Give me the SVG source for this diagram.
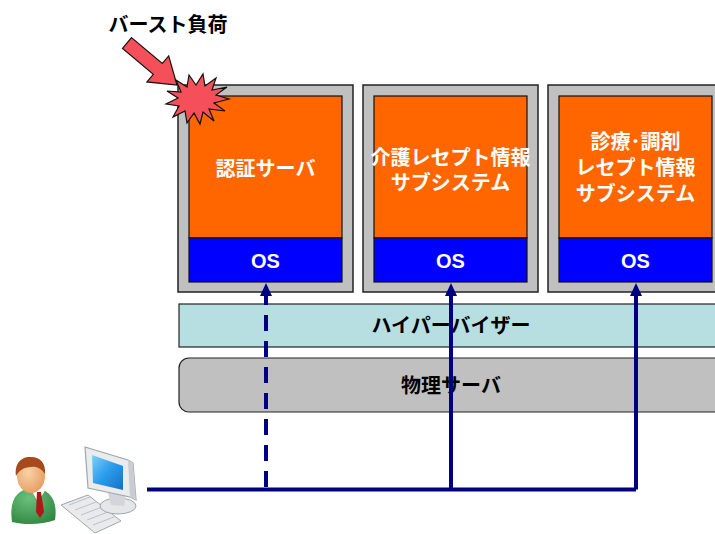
<svg xmlns="http://www.w3.org/2000/svg" width="715" height="534" viewBox="0 0 715 534">
  <defs>
    <style>
      .vm { fill: #C0C0C0; stroke: #222; stroke-width: 1.5; }
      .app { fill: #FF6600; stroke: #111; stroke-width: 1.2; }
      .os { fill: #0000FF; stroke: #111; stroke-width: 1.2; }
      .wt { fill: #FFFFFF; font-family: "Liberation Sans", "Noto Sans CJK JP", sans-serif; font-weight: bold; font-size: 20px; text-anchor: middle; }
      .bt { fill: #000000; font-family: "Liberation Sans", "Noto Sans CJK JP", sans-serif; font-weight: bold; font-size: 20px; text-anchor: middle; }
      .link { fill: none; stroke: #000080; stroke-width: 4; }
      .burst { fill: #F5505A; stroke: #111; stroke-width: 1.2; stroke-linejoin: miter; }
    </style>
    <!-- arrowhead: base sits on the line end, tip 13px beyond -->
    <marker id="head" markerWidth="12" markerHeight="14" refX="6" refY="13" orient="0" markerUnits="userSpaceOnUse">
      <path d="M6,0 L12,13 L0,13 Z" fill="#000080"/>
    </marker>
    <radialGradient id="suit" cx="0.4" cy="0.3" r="0.8">
      <stop offset="0" stop-color="#6CC07A"/>
      <stop offset="1" stop-color="#2E8540"/>
    </radialGradient>
    <radialGradient id="face" cx="0.4" cy="0.4" r="0.7">
      <stop offset="0" stop-color="#FAD2A6"/>
      <stop offset="1" stop-color="#E29A5E"/>
    </radialGradient>
    <linearGradient id="screen" x1="0" y1="0" x2="1" y2="1">
      <stop offset="0" stop-color="#7FD0FA"/>
      <stop offset="0.5" stop-color="#2A9BEA"/>
      <stop offset="1" stop-color="#1670C8"/>
    </linearGradient>
  </defs>

  <rect width="715" height="534" fill="#FFFFFF"/>

  <!-- hypervisor layer -->
  <g id="hypervisor">
    <rect x="179" y="304" width="545" height="43" fill="#B7DEE1" stroke="#222" stroke-width="1.2"/>
    <text class="bt" x="451" y="333">ハイパーバイザー</text>
  </g>

  <!-- physical server -->
  <g id="physical-server">
    <rect x="179" y="358" width="560" height="54" rx="10" ry="10" fill="#C0C0C0" stroke="#222" stroke-width="1.2"/>
    <text class="bt" x="451" y="393">物理サーバ</text>
  </g>

  <!-- virtual machines -->
  <g id="vm-auth">
    <rect class="vm" x="178" y="85" width="175" height="207"/>
    <rect class="app" x="189" y="96" width="153" height="142"/>
    <rect class="os" x="189" y="238" width="153" height="44"/>
    <text class="wt" x="265.5" y="176" font-size="21">認証サーバ</text>
    <text class="wt" x="265.5" y="268">OS</text>
  </g>

  <g id="vm-care">
    <rect class="vm" x="363" y="85" width="175" height="207"/>
    <rect class="app" x="374" y="96" width="153" height="142"/>
    <rect class="os" x="374" y="238" width="153" height="44"/>
    <text class="wt" x="450.5" y="165">介護レセプト情報</text>
    <text class="wt" x="450.5" y="190">サブシステム</text>
    <text class="wt" x="450.5" y="268">OS</text>
  </g>

  <g id="vm-medical">
    <rect class="vm" x="548" y="85" width="175" height="207"/>
    <rect class="app" x="559" y="96" width="153" height="142"/>
    <rect class="os" x="559" y="238" width="153" height="44"/>
    <text class="wt" x="635.5" y="149">診療･調剤</text>
    <text class="wt" x="635.5" y="175">レセプト情報</text>
    <text class="wt" x="635.5" y="201">サブシステム</text>
    <text class="wt" x="635.5" y="268">OS</text>
  </g>

  <!-- burst load callout -->
  <g id="burst-load">
    <text class="bt" x="168" y="32">バースト負荷</text>
    <polygon class="burst" points="131.5,37.6 162.3,63.5 168.7,55.9 177,85 146.9,81.9 153.3,74.3 122.5,48.4"/>
    <polygon class="burst" points="229,99 214,103 225,111 209,109 214,121 203,112 200,124 194,113 187,123 185,111 173,117 179,106 166,104 178,98 167,91 181,92 176,80 187,87 189,75 196,85 203,74 205,86 216,78 212,90 227,87 216,95"/>
  </g>

  <!-- user with workstation -->
  <g id="user">
    <!-- person -->
    <path d="M12,522 C9,500 16,490 33,487 C50,489 58,500 55,520 C42,525 24,525 12,522 Z" fill="url(#suit)"/>
    <path d="M30,488 L38,502 L46,489 Z" fill="#FFFFFF"/>
    <path d="M37,492 L41,492 L44,512 L40,518 L36,512 Z" fill="#B01818"/>
    <ellipse cx="31" cy="476" rx="14" ry="17" fill="url(#face)"/>
    <path d="M16,476 C14,461 24,456 31,457 C41,457 46,464 45,474 C41,468 36,466 31,467 C23,467 19,471 16,476 Z" fill="#A64A1E"/>
    <!-- keyboard -->
    <path d="M61,505 L88,495 L121,521 L95,533 Z" fill="#E8EAEC" stroke="#A0A6AC" stroke-width="1"/>
    <path d="M69,505 L90,497 M75,510 L96,502 M81,515 L102,507 M87,520 L108,512 M93,525 L114,517" stroke="#BCC1C6" stroke-width="1"/>
    <!-- monitor stand -->
    <ellipse cx="118" cy="506" rx="18" ry="8" fill="#E4E6E8" stroke="#A0A6AC" stroke-width="1"/>
    <path d="M108,493 L126,495 L124,506 L111,505 Z" fill="#D2D6DA"/>
    <!-- monitor -->
    <path d="M85,447 L128,460 L133,463 L136,500 L130,497 L88,488 Z" fill="#E9EBED" stroke="#A0A6AC" stroke-width="1.2"/>
    <path d="M128,460 L133,463 L136,500 L130,497 Z" fill="#C9CDD1"/>
    <path d="M92,455 L123,466 L123,490 L93,483 Z" fill="url(#screen)"/>
  </g>

  <!-- connectors -->
  <g id="connectors">
    <path class="link" d="M147,489.5 H636"/>
    <path class="link" d="M266,487 V296" stroke-dasharray="16,10" marker-end="url(#head)"/>
    <path class="link" d="M451,489.5 V296" marker-end="url(#head)"/>
    <path class="link" d="M636,489.5 V296" marker-end="url(#head)"/>
  </g>
</svg>
